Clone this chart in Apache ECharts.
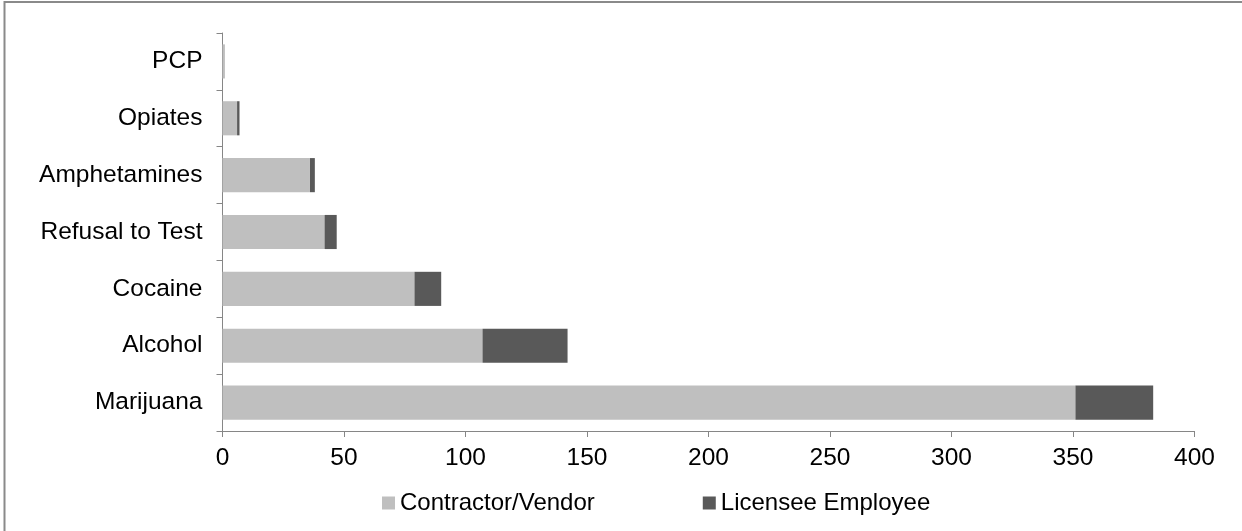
<!DOCTYPE html>
<html>
<head>
<meta charset="utf-8">
<style>
  html, body { margin: 0; padding: 0; background: #ffffff; }
  #chart { width: 1242px; height: 531px; }
</style>
<script src="https://cdn.jsdelivr.net/npm/echarts@6/dist/echarts.min.js"></script>
</head>
<body>
<div id="chart"></div>
<script>
// Categories listed bottom to top (first entry sits at the bottom of the axis)
const categories = ['Marijuana', 'Alcohol', 'Cocaine', 'Refusal to Test', 'Amphetamines', 'Opiates', 'PCP'];
const contractorVendor = [351, 107, 79, 42, 36, 6, 1];
const licenseeEmployee = [32, 35, 11, 5, 2, 1, 0];
const seriesNames = ['Contractor/Vendor', 'Licensee Employee'];
const xTicks = { min: 0, max: 400, interval: 50 };

const FONT = '"Liberation Sans", Arial, sans-serif';
const AXIS_GRAY = '#868686';

const chart = echarts.init(document.getElementById('chart'), null, { renderer: 'canvas' });

chart.setOption({
  backgroundColor: '#ffffff',
  animation: false,
  textStyle: { fontFamily: FONT },
  grid: { left: 222.5, right: 47.5, top: 33, bottom: 100, containLabel: false },
  legend: {
    data: seriesNames,
    left: 377,
    top: 486,
    itemWidth: 13,
    itemHeight: 13,
    itemGap: 108,
    icon: 'rect',
    textStyle: { fontFamily: FONT, fontSize: 24, color: '#000000' }
  },
  xAxis: {
    type: 'value',
    min: xTicks.min,
    max: xTicks.max,
    interval: xTicks.interval,
    splitLine: { show: false },
    axisLine: { show: true, lineStyle: { color: AXIS_GRAY, width: 1 } },
    axisTick: { show: true, length: 6, lineStyle: { color: AXIS_GRAY } },
    axisLabel: { fontFamily: FONT, fontSize: 24.5, color: '#000000', margin: 15 }
  },
  yAxis: {
    type: 'category',
    data: categories,
    axisLine: { show: true, lineStyle: { color: AXIS_GRAY, width: 1 } },
    axisTick: { show: true, length: 6, alignWithLabel: false, lineStyle: { color: AXIS_GRAY } },
    axisLabel: { fontFamily: FONT, fontSize: 24.5, color: '#000000', margin: 20 }
  },
  series: [
    {
      name: seriesNames[0],
      type: 'bar',
      stack: 'total',
      data: contractorVendor,
      barCategoryGap: '40%',
      itemStyle: { color: '#bfbfbf' }
    },
    {
      name: seriesNames[1],
      type: 'bar',
      stack: 'total',
      data: licenseeEmployee,
      barCategoryGap: '40%',
      itemStyle: { color: '#595959' }
    }
  ],
  graphic: [
    {
      type: 'polyline',
      shape: { points: [[4.5, 540], [4.5, 2], [1250, 2]] },
      style: { stroke: '#8a8a8a', lineWidth: 2, fill: null },
      silent: true
    }
  ]
});
</script>
</body>
</html>
